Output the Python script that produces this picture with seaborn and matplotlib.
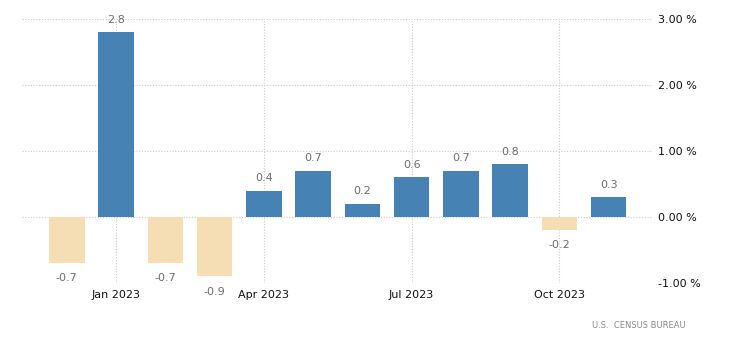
import pandas as pd
import seaborn as sns
import matplotlib.pyplot as plt

# Data
months = ['Dec 2022', 'Jan 2023', 'Feb 2023', 'Mar 2023', 'Apr 2023', 'May 2023',
          'Jun 2023', 'Jul 2023', 'Aug 2023', 'Sep 2023', 'Oct 2023', 'Nov 2023']
values = [-0.7, 2.8, -0.7, -0.9, 0.4, 0.7, 0.2, 0.6, 0.7, 0.8, -0.2, 0.3]
tick_months = ['Jan 2023', 'Apr 2023', 'Jul 2023', 'Oct 2023']
y_ticks = [-1, 0, 1, 2, 3]
source = 'U.S.  CENSUS BUREAU'

df = pd.DataFrame({'Month': months, 'Value': values})
df['Sign'] = ['pos' if v >= 0 else 'neg' for v in df['Value']]

sns.set_theme(style="white")
plt.rcParams['font.family'] = ['DejaVu Sans']

fig = plt.figure(figsize=(7.32, 3.51), dpi=100)
ax = fig.add_axes([0.030, 0.194, 0.862, 0.752])

sns.barplot(
    data=df, x='Month', y='Value', hue='Sign',
    palette={'pos': '#4682B4', 'neg': '#F5DEB3'},
    dodge=False, width=0.72, saturation=1, linewidth=0,
    legend=False, ax=ax, zorder=3
)

# Value labels
for i, v in enumerate(values):
    off = 9 if v >= 0 else -11
    ax.annotate(f'{v:.1f}', (i, v), xytext=(0, off), textcoords='offset points',
                ha='center', va='center', fontsize=8, color='#6d6d6d',
                annotation_clip=False)

ax.set_ylim(-1, 3)
ax.set_xlim(-0.91, 11.9)
ax.set_yticks(y_ticks)
ax.set_yticklabels([f'{t:.2f} %' for t in y_ticks])
ax.yaxis.tick_right()
ax.set_xticks([months.index(m) for m in tick_months])
ax.set_xticklabels(tick_months)
ax.tick_params(axis='both', length=0, labelsize=8, colors='#111111')
ax.tick_params(axis='y', pad=4)
ax.tick_params(axis='x', pad=5)
ax.set_xlabel('')
ax.set_ylabel('')

ax.grid(True, color='#cccccc', linestyle=(0, (1, 1.5)), linewidth=0.8, zorder=0)
ax.set_axisbelow(True)
for s in ax.spines.values():
    s.set_visible(False)

fig.text(0.936, 0.074, source, ha='right', va='center', fontsize=6, color='#8a8a8a')

plt.savefig('out.png', dpi=100)
